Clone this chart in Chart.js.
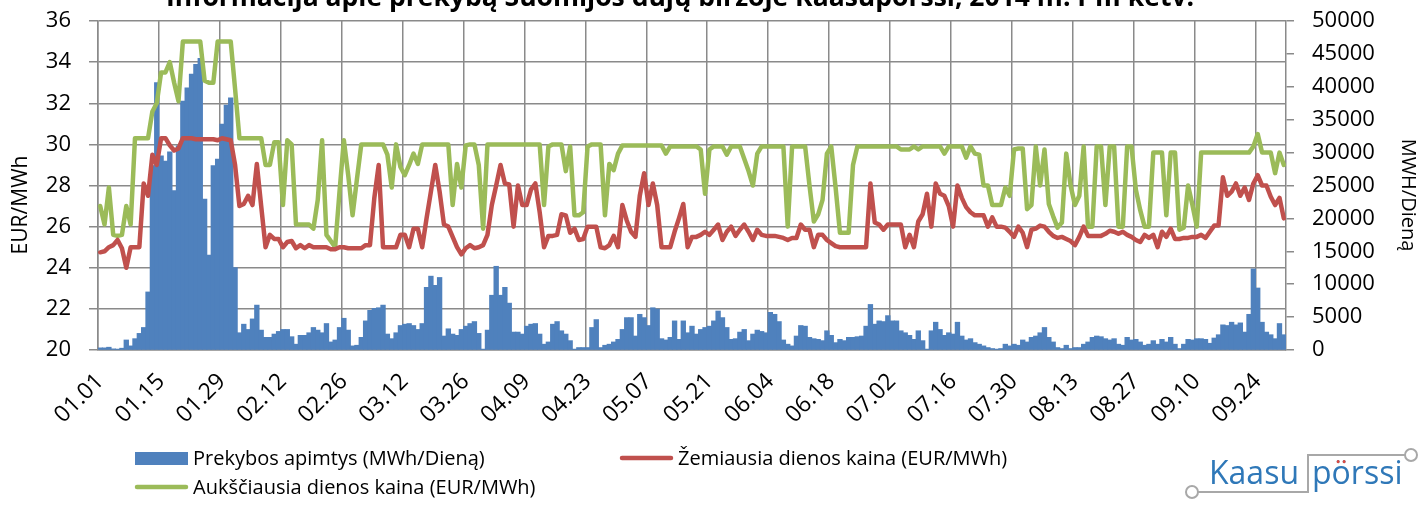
<!DOCTYPE html>
<html>
<head>
<meta charset="utf-8">
<script src="https://cdn.jsdelivr.net/npm/chart.js@4.4.1/dist/chart.umd.min.js"></script>
<style>
html,body{margin:0;padding:0;background:#fff;}
#wrap{width:1418px;height:510px;position:relative;overflow:hidden;}
canvas{display:block;}
</style>
</head>
<body>
<div id="wrap"><canvas id="c" width="1418" height="510"></canvas></div>
<script>
// ---------- text ----------
const titleText = 'Informacija apie prekybą Suomijos dujų biržoje Kaasupörssi, 2014 m. I-III ketv.';
const seriesNames = ['Prekybos apimtys (MWh/Dieną)', 'Žemiausia dienos kaina (EUR/MWh)', 'Aukščiausia dienos kaina (EUR/MWh)'];
const leftAxisTitle = 'EUR/MWh';
const rightAxisTitle = 'MWH/Dieną';
const logoWords = ['Kaasu', 'pörssi'];

// ---------- categories (days 01.01 .. 09.30) ----------
const monthLengths = [31, 28, 31, 30, 31, 30, 31, 31, 30];
const tickLabels = ['01.01','01.15','01.29','02.12','02.26','03.12','03.26','04.09','04.23','05.07',
                    '05.21','06.04','06.18','07.02','07.16','07.30','08.13','08.27','09.10','09.24'];
const tickEvery = 14;

// ---------- series (one row = 14 days) ----------
const volume = [
  300,300,400,150,100,250,1500,600,1700,2500,3400,8800,28000,40600,
  29500,28700,30100,24200,31000,37800,39800,41900,43400,44300,22900,14400,28000,29000,
  34300,37200,38300,12500,2600,3900,3100,4700,6800,3000,1900,1900,2400,2800,
  3100,3100,2000,860,2200,2200,2600,3400,3000,2600,4000,1200,1500,3400,
  4800,3000,600,700,1900,4400,6000,6300,6400,6800,2400,1700,2600,3700,
  3900,4000,3700,3100,4000,9500,11200,9800,11000,2100,3200,2400,2200,3100,
  3600,4000,4300,2500,100,3000,8300,12700,8300,9500,7100,2700,2700,2400,
  3600,3900,4000,2400,860,1200,3900,4300,2900,2400,1400,100,350,350,
  350,3400,4600,350,700,860,1200,1600,3100,4900,4900,2100,5400,4900,
  3700,6400,6200,1700,1500,1900,4400,1600,4400,2600,3600,2400,3100,3400,
  3600,4400,5900,4900,3400,1600,1700,2700,3100,1400,2400,3000,2800,2600,
  5700,5400,4300,1500,860,600,2100,3700,3600,1900,1700,1600,1400,2900,
  2200,1100,1600,1400,1900,1900,2000,2100,3600,6900,3900,4400,4300,5200,
  4400,4400,2900,2600,2200,1600,2900,1400,100,2900,4200,3100,2200,2600,
  2400,4200,2100,1500,1700,1100,860,600,350,200,100,200,860,600,
  860,700,1500,1200,1900,2100,2600,3400,1900,1200,350,200,700,200,
  350,350,860,1200,1900,2100,2000,1700,1500,1700,860,700,1900,1500,
  1600,1200,700,860,1400,860,1600,1200,1900,860,200,860,1600,1500,
  1700,1700,1600,1000,1800,2300,3800,3700,4200,3800,4100,2700,5400,12300,
  9400,4200,2700,2300,1700,4000,2300
];
const lowPrice = [
  24.75,24.8,25.0,25.1,25.35,24.95,24.0,25.0,25.0,25.0,28.1,27.5,29.5,29.0,
  30.3,30.3,29.95,29.7,29.8,30.3,30.3,30.3,30.25,30.25,30.25,30.25,30.25,30.2,
  30.3,30.25,30.2,29.0,27.0,27.1,27.5,27.05,29.05,27.0,25.0,25.6,25.4,25.4,
  25.0,25.25,25.3,24.95,25.1,24.95,25.1,25.0,25.0,25.0,25.0,24.9,24.9,25.0,
  25.0,24.95,24.95,24.95,24.95,25.1,25.1,27.4,29.0,25.0,25.0,25.0,25.0,25.6,
  25.6,25.0,25.9,25.9,25.0,26.4,27.7,29.0,27.7,26.1,26.0,25.5,25.0,24.65,
  24.95,25.1,24.95,25.0,25.1,25.6,27.05,28.0,29.0,28.1,28.05,26.0,28.0,27.05,
  27.05,27.8,28.1,26.7,25.0,25.55,25.55,25.6,26.6,26.55,25.7,25.9,25.35,25.4,
  26.0,26.0,26.0,25.0,24.95,25.1,25.55,25.0,27.05,26.3,25.75,25.5,27.5,28.6,
  27.05,28.1,27.05,25.0,25.0,25.0,25.75,26.4,27.1,25.0,25.5,25.5,25.6,25.75,
  25.6,25.85,26.1,25.35,25.75,26.0,25.55,25.85,26.1,25.75,25.35,25.85,25.6,25.55,
  25.55,25.55,25.5,25.45,25.35,25.45,25.45,26.1,25.85,25.85,25.0,25.6,25.6,25.35,
  25.2,25.05,25.0,25.0,25.0,25.0,25.0,25.0,25.0,28.1,26.2,26.1,25.85,26.1,
  26.1,26.1,26.1,25.0,25.6,25.0,26.25,26.6,27.6,26.0,28.1,27.6,27.5,27.0,
  26.0,28.0,27.4,26.95,26.7,26.55,26.55,26.55,26.0,26.45,26.0,26.0,25.95,25.75,
  25.5,26.0,25.7,25.0,25.85,25.9,26.05,26.0,25.75,25.55,25.45,25.5,25.4,25.3,
  25.1,25.5,26.0,25.55,25.55,25.55,25.55,25.65,25.8,25.75,25.65,25.75,25.6,25.5,
  25.35,25.25,25.6,25.45,25.6,25.0,25.75,25.5,25.9,25.4,25.4,25.45,25.45,25.5,
  25.5,25.6,25.45,25.75,26.05,26.05,28.4,27.5,27.7,28.1,27.5,27.9,27.3,28.1,
  28.5,28.0,28.0,27.45,27.05,27.4,26.4
];
const highPrice = [
  27.0,26.1,27.9,25.6,25.55,25.6,27.0,26.1,30.3,30.3,30.3,30.3,31.6,32.0,
  33.5,33.5,34.0,33.0,32.1,35.0,35.0,35.0,35.0,35.0,33.1,33.0,33.0,35.0,
  35.0,35.0,35.0,32.7,30.3,30.3,30.3,30.3,30.3,30.3,29.0,29.0,30.1,30.1,
  27.05,30.2,30.0,26.1,26.1,26.1,26.1,25.9,27.3,30.2,25.6,25.3,25.0,27.7,
  30.2,28.5,26.55,28.3,30.0,30.0,30.0,30.0,30.0,30.0,29.5,27.9,30.0,28.9,
  28.5,29.0,29.55,29.05,30.0,30.0,30.0,30.0,30.0,30.0,30.0,27.05,29.05,27.9,
  29.95,30.0,30.0,29.0,25.9,30.0,30.0,30.0,30.0,30.0,30.0,30.0,30.0,30.0,
  30.0,30.0,30.0,30.0,27.05,29.9,30.0,30.0,30.0,28.7,29.9,26.55,26.55,26.7,
  29.9,30.0,30.0,30.0,26.55,29.05,28.75,29.55,29.95,29.95,29.95,29.95,29.95,29.95,
  29.95,29.95,29.95,29.95,29.55,29.9,29.9,29.9,29.9,29.9,29.9,29.9,29.75,27.6,
  29.75,29.9,29.9,29.9,29.5,29.9,29.9,29.9,29.3,28.7,28.0,29.55,29.9,29.9,
  29.9,29.9,29.9,29.9,26.0,29.9,29.9,29.9,29.9,28.0,26.25,26.6,27.3,29.55,
  29.9,27.9,25.7,25.7,25.7,29.0,29.9,29.9,29.9,29.9,29.9,29.9,29.9,29.9,
  29.9,29.9,29.75,29.75,29.75,29.9,29.75,29.9,29.9,29.9,29.9,29.9,29.55,29.9,
  29.9,29.9,29.9,29.35,29.9,29.55,29.5,28.0,28.0,27.05,27.05,27.05,27.9,27.5,
  29.75,29.8,29.8,26.85,27.05,29.9,28.0,29.75,27.1,26.5,25.95,26.2,29.55,28.0,
  27.05,27.5,29.9,26.0,26.0,29.9,29.9,27.05,29.9,29.9,26.0,26.0,29.9,29.9,
  27.8,26.8,26.0,26.0,29.6,29.6,29.6,26.55,29.6,29.6,25.85,25.95,28.0,27.05,
  26.0,29.6,29.6,29.6,29.6,29.6,29.6,29.6,29.6,29.6,29.6,29.6,29.6,29.9,
  30.5,29.6,29.6,29.6,28.6,29.6,29.0
];

// ---------- build category labels from the calendar ----------
const categories = [];
monthLengths.forEach((len, m) => {
  for (let d = 1; d <= len; d++) {
    categories.push(String(m + 1).padStart(2, '0') + '.' + String(d).padStart(2, '0'));
  }
});

// ---------- styles ----------
const FONT = '"Open Sans", "Noto Sans", sans-serif';
const BLUE = '#4f81bd', RED = '#c0504d', GREEN = '#9bbb59', GRID = '#8a8a8a';
const LOGO_BLUE = '#2f78b8', LOGO_RED = '#e04a3f', LOGO_GREY = '#a8a8a8';

const decor = {
  id: 'decor',
  afterDraw(chart) {
    const ctx = chart.ctx;
    ctx.save();
    // title (partially outside the picture, as in the original)
    ctx.fillStyle = '#000';
    ctx.font = 'bold 26.5px ' + FONT;
    ctx.textAlign = 'center';
    ctx.textBaseline = 'alphabetic';
    ctx.fillText(titleText, 680, 6);

    // axis titles
    ctx.textBaseline = 'middle';
    ctx.font = '21px ' + FONT;
    ctx.save(); ctx.translate(21, 205); ctx.rotate(-Math.PI / 2); ctx.fillText(leftAxisTitle, 0, 0); ctx.restore();
    ctx.font = '20px ' + FONT;
    ctx.save(); ctx.translate(1408, 195); ctx.rotate(Math.PI / 2); ctx.fillText(rightAxisTitle, 0, 0); ctx.restore();

    // legend (two columns)
    const ds = chart.data.datasets;
    const items = [
      {d: ds[0], x: 135, y: 458},
      {d: ds[1], x: 620, y: 458},
      {d: ds[2], x: 135, y: 487}
    ];
    ctx.font = '20px ' + FONT;
    ctx.textAlign = 'left';
    items.forEach(it => {
      if (it.d.type === 'bar') {
        ctx.fillStyle = it.d.backgroundColor;
        ctx.fillRect(it.x, it.y - 6, 53, 13);
      } else {
        ctx.strokeStyle = it.d.borderColor;
        ctx.lineWidth = 4.5;
        ctx.lineCap = 'round';
        ctx.beginPath(); ctx.moveTo(it.x + 2, it.y); ctx.lineTo(it.x + 51, it.y); ctx.stroke();
      }
      ctx.fillStyle = '#000';
      ctx.fillText(it.d.label, it.x + 58, it.y + 1);
    });

    // logo
    ctx.strokeStyle = LOGO_GREY;
    ctx.lineWidth = 2;
    ctx.lineCap = 'butt';
    ctx.beginPath(); ctx.arc(1192, 492, 6, 0, Math.PI * 2); ctx.stroke();
    ctx.beginPath(); ctx.arc(1411, 455, 6, 0, Math.PI * 2); ctx.stroke();
    ctx.beginPath();
    ctx.moveTo(1198, 492); ctx.lineTo(1308, 492); ctx.lineTo(1308, 455); ctx.lineTo(1405, 455);
    ctx.stroke();
    ctx.font = '32px ' + FONT;
    ctx.textBaseline = 'alphabetic';
    ctx.fillStyle = LOGO_BLUE;
    ctx.textAlign = 'right';
    ctx.fillText(logoWords[0], 1299, 484);
    ctx.textAlign = 'left';
    ctx.fillText(logoWords[1], 1312, 484);
    // recolour the umlaut dots red
    const wp = ctx.measureText(logoWords[1].slice(0, 1)).width;
    const wo = ctx.measureText(logoWords[1].slice(1, 2)).width;
    ctx.save();
    ctx.beginPath(); ctx.rect(1312 + wp, 440, wo, 484 - 18 - 440); ctx.clip();
    ctx.fillStyle = LOGO_RED;
    ctx.fillText(logoWords[1], 1312, 484);
    ctx.restore();
    ctx.restore();
  }
};

new Chart(document.getElementById('c').getContext('2d'), {
  type: 'bar',
  data: {
    labels: categories,
    datasets: [
      {type: 'bar', label: seriesNames[0], data: volume, yAxisID: 'y1', backgroundColor: BLUE,
       borderWidth: 0, inflateAmount: 0.5, barPercentage: 1, categoryPercentage: 1, order: 3},
      {type: 'line', label: seriesNames[1], data: lowPrice, yAxisID: 'y', borderColor: RED, backgroundColor: RED,
       borderWidth: 4.5, pointRadius: 0, tension: 0, borderJoinStyle: 'round', borderCapStyle: 'round', order: 1},
      {type: 'line', label: seriesNames[2], data: highPrice, yAxisID: 'y', borderColor: GREEN, backgroundColor: GREEN,
       borderWidth: 4.5, pointRadius: 0, tension: 0, borderJoinStyle: 'round', borderCapStyle: 'round', order: 2}
    ]
  },
  options: {
    responsive: false,
    animation: false,
    events: [],
    layout: {padding: {top: 21, left: 0, right: 0, bottom: 0}},
    plugins: {legend: {display: false}, title: {display: false}, tooltip: {enabled: false}},
    scales: {
      x: {
        offset: true,
        grid: {offset: true, drawTicks: false, lineWidth: 1.5,
               color: c => (c.index % tickEvery === 0 ? GRID : 'rgba(0,0,0,0)')},
        border: {color: GRID, width: 1.5},
        ticks: {autoSkip: false, minRotation: 45, maxRotation: 45, padding: 18, labelOffset: 0, color: '#000',
                font: {family: FONT, size: 23},
                callback: (v, i) => (i % tickEvery === 0 ? tickLabels[i / tickEvery] : '')},
        afterFit: s => { s.height = 160; s.paddingLeft = 0; s.paddingRight = 0; }
      },
      y: {
        position: 'left', min: 20, max: 36,
        grid: {color: GRID, lineWidth: 1.5, tickLength: 9},
        border: {color: GRID, width: 1.5},
        ticks: {stepSize: 2, padding: 18, color: '#000', font: {family: FONT, size: 22},
                callback: v => String(v)},
        afterFit: s => { s.width = 98; s.paddingTop = 0; s.paddingBottom = 0; }
      },
      y1: {
        position: 'right', min: 0, max: 50000,
        grid: {drawOnChartArea: false, color: GRID, lineWidth: 1.5, tickLength: 8},
        border: {color: GRID, width: 1.5},
        ticks: {stepSize: 5000, padding: 18, color: '#000', font: {family: FONT, size: 22},
                callback: v => String(v)},
        afterFit: s => { s.width = 132; s.paddingTop = 0; s.paddingBottom = 0; }
      }
    }
  },
  plugins: [decor]
});
</script>
</body>
</html>
